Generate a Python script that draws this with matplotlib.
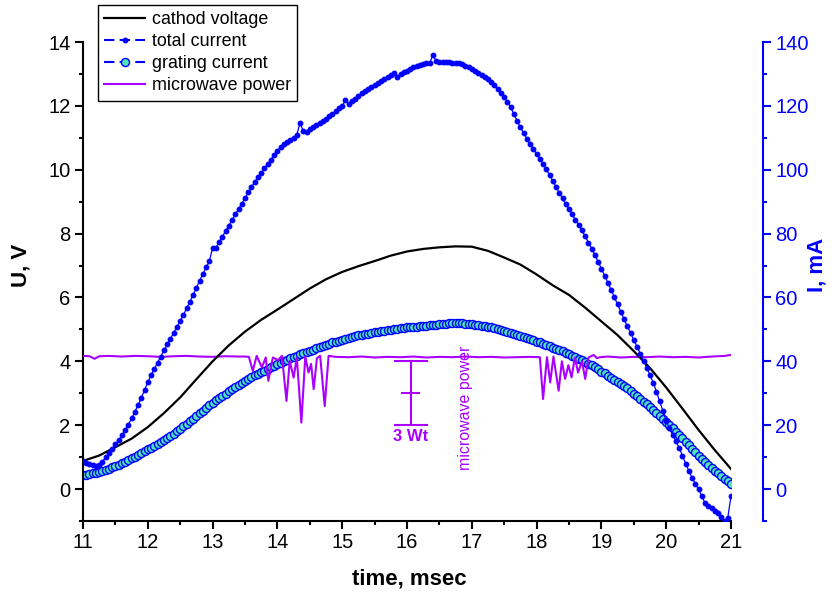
import numpy as np
import matplotlib.pyplot as plt
from matplotlib.lines import Line2D
from matplotlib.ticker import MultipleLocator

plt.rcParams['font.family'] = ['Liberation Sans', 'DejaVu Sans']

PURPLE = '#AA00FF'
BLUE = '#0000FF'
MINT = '#4CE6B8'

# cathod voltage, V (left axis)
volt_t = [11.0, 11.25, 11.5, 11.75, 12.0, 12.25, 12.5, 12.75, 13.0, 13.25, 13.5,
          13.75, 14.0, 14.25, 14.5, 14.75, 15.0, 15.25, 15.5, 15.75, 16.0, 16.25,
          16.5, 16.75, 17.0, 17.25, 17.5, 17.75, 18.0, 18.25, 18.5, 18.75, 19.0,
          19.25, 19.5, 19.75, 20.0, 20.25, 20.5, 20.75, 21.0]
cathod_voltage = [0.88, 1.05, 1.31, 1.58, 1.94, 2.38, 2.87, 3.44, 4.00, 4.50, 4.93,
                  5.30, 5.62, 5.95, 6.28, 6.57, 6.80, 6.98, 7.14, 7.31, 7.44, 7.52,
                  7.57, 7.60, 7.59, 7.46, 7.25, 7.03, 6.72, 6.38, 6.08, 5.68, 5.25,
                  4.82, 4.32, 3.79, 3.18, 2.52, 1.85, 1.22, 0.63]

# total current, mA (right axis), sampled every 0.05 ms from 11 to 21
total_current = [
    8.8, 8.2, 7.8, 7.4, 7.2, 7.6, 8.6, 9.9, 11.4, 12.7,
    14.0, 15.3, 16.8, 18.4, 20.2, 22.1, 24.2, 26.3, 28.6, 31.0,
    33.5, 35.6, 37.6, 39.6, 41.5, 43.4, 45.3, 47.1, 49.0, 50.8,
    52.7, 54.6, 56.6, 58.7, 60.8, 63.0, 65.3, 67.3, 69.4, 71.3,
    75.6, 75.5, 77.3, 79.0, 80.8, 82.5, 84.2, 86.0, 87.7, 89.4,
    91.1, 92.9, 94.6, 96.2, 97.6, 99.0, 100.4, 101.8, 103.2, 104.6,
    106.0, 107.1, 108.2, 108.8, 109.3, 109.8, 111.0, 114.7, 112.0, 111.8,
    112.6, 113.3, 114.0, 114.6, 115.3, 116.0, 116.8, 117.6, 118.3, 119.2,
    119.9, 121.8, 120.5, 121.4, 122.3, 123.1, 123.9, 124.6, 125.3, 126.0,
    126.6, 127.2, 127.8, 128.4, 129.0, 129.6, 130.2, 129.1, 130.0, 130.5,
    131.0, 131.6, 132.2, 132.6, 132.9, 133.1, 133.3, 133.4, 135.9, 134.0,
    133.8, 133.7, 133.6, 133.6, 133.5, 133.4, 133.3, 133.0, 132.6, 132.1,
    131.5, 130.9, 130.3, 129.7, 129.1, 128.3, 127.4, 126.4, 125.3, 124.1,
    122.8, 121.2, 119.5, 117.4, 115.2, 113.3, 111.5, 109.7, 108.0, 106.5,
    105.0, 103.4, 101.8, 100.1, 98.3, 96.5, 94.6, 92.8, 91.0, 89.3,
    87.6, 86.0, 84.3, 82.7, 81.0, 79.1, 77.2, 75.3, 73.3, 71.2,
    69.0, 66.8, 64.6, 62.4, 60.1, 57.8, 55.5, 53.2, 51.0, 48.9,
    46.7, 44.6, 42.4, 40.2, 38.0, 35.7, 33.3, 30.5, 27.5, 24.4,
    21.3, 19.1, 17.0, 15.0, 12.9, 10.5, 8.0, 5.7, 3.5, 1.7,
    0.0, -2.3, -4.4, -5.3, -6.0, -6.8, -7.5, -8.9, -10.0, -9.0,
    -2.2]
total_t = np.linspace(11, 21, len(total_current))

# grating current (plotted on the left scale), every 0.05 ms
grating_current = [
    0.44, 0.45, 0.47, 0.49, 0.51, 0.53, 0.56, 0.60, 0.64, 0.68,
    0.72, 0.76, 0.81, 0.86, 0.91, 0.96, 1.01, 1.06, 1.12, 1.18,
    1.25, 1.30, 1.36, 1.42, 1.48, 1.54, 1.61, 1.67, 1.74, 1.81,
    1.88, 1.96, 2.04, 2.12, 2.20, 2.28, 2.37, 2.45, 2.54, 2.62,
    2.71, 2.78, 2.85, 2.92, 2.99, 3.06, 3.13, 3.20, 3.26, 3.33,
    3.39, 3.45, 3.50, 3.56, 3.61, 3.66, 3.71, 3.76, 3.81, 3.86,
    3.91, 3.95, 4.00, 4.04, 4.09, 4.13, 4.18, 4.22, 4.26, 4.30,
    4.33, 4.37, 4.41, 4.45, 4.48, 4.52, 4.55, 4.59, 4.62, 4.65,
    4.68, 4.70, 4.73, 4.76, 4.78, 4.81, 4.83, 4.85, 4.87, 4.89,
    4.91, 4.93, 4.94, 4.96, 4.97, 4.99, 5.00, 5.02, 5.03, 5.05,
    5.06, 5.07, 5.08, 5.09, 5.10, 5.11, 5.12, 5.13, 5.14, 5.15,
    5.16, 5.17, 5.18, 5.19, 5.19, 5.19, 5.19, 5.19, 5.18, 5.17,
    5.16, 5.15, 5.13, 5.12, 5.10, 5.08, 5.06, 5.04, 5.01, 4.99,
    4.96, 4.93, 4.90, 4.87, 4.83, 4.80, 4.76, 4.73, 4.69, 4.66,
    4.62, 4.59, 4.55, 4.51, 4.47, 4.43, 4.39, 4.35, 4.31, 4.27,
    4.22, 4.18, 4.13, 4.08, 4.03, 3.98, 3.93, 3.87, 3.81, 3.75,
    3.68, 3.62, 3.55, 3.49, 3.42, 3.36, 3.30, 3.23, 3.15, 3.07,
    2.99, 2.91, 2.82, 2.74, 2.65, 2.56, 2.47, 2.38, 2.29, 2.20,
    2.10, 2.00, 1.90, 1.80, 1.70, 1.59, 1.48, 1.37, 1.26, 1.15,
    1.04, 0.95, 0.85, 0.76, 0.67, 0.58, 0.49, 0.40, 0.32, 0.24,
    0.16]
grating_t = np.linspace(11, 21, len(grating_current))

# microwave power trace (left scale units)
mw_t = [11.0, 11.1, 11.18, 11.25, 11.4, 11.6, 11.8, 12.0, 12.2, 12.4, 12.6, 12.8,
        13.0, 13.2, 13.4, 13.5, 13.56, 13.62, 13.68, 13.76, 13.82, 13.86, 13.93,
        14.01, 14.07, 14.14, 14.19, 14.25, 14.30, 14.37, 14.43, 14.48, 14.52,
        14.56, 14.61, 14.66, 14.73, 14.79, 14.9, 15.1, 15.3, 15.5, 15.7, 15.9,
        16.1, 16.3, 16.5, 16.7, 16.9, 17.1, 17.3, 17.5, 17.7, 17.9, 18.05, 18.10,
        18.16, 18.21, 18.26, 18.34, 18.39, 18.44, 18.49, 18.54, 18.59, 18.64,
        18.70, 18.75, 18.80, 18.88, 18.93, 18.98, 19.1, 19.3, 19.5, 19.7, 19.9,
        20.1, 20.3, 20.5, 20.7, 20.9, 21.0]
mw_power = [4.17, 4.16, 4.08, 4.16, 4.17, 4.15, 4.17, 4.16, 4.14, 4.16, 4.17, 4.15,
            4.14, 4.16, 4.15, 4.15, 4.14, 3.70, 4.17, 3.81, 4.12, 3.39, 4.12,
            4.04, 4.17, 2.76, 4.02, 3.49, 4.12, 2.08, 4.15, 3.65, 3.92,
            3.13, 4.10, 4.17, 2.60, 4.17, 4.14, 4.13, 4.15, 4.12, 4.14, 4.13,
            4.15, 4.12, 4.14, 4.13, 4.15, 4.13, 4.14, 4.12, 4.13, 4.14, 4.13, 2.82,
            4.13, 3.34, 4.15, 3.08, 4.00, 3.45, 3.88, 3.50, 4.12, 3.65,
            4.00, 3.45, 4.12, 4.20, 4.10, 4.13, 4.15, 4.12, 4.14, 4.13, 4.15,
            4.13, 4.14, 4.12, 4.15, 4.17, 4.20]

fig = plt.figure(figsize=(8.36, 5.97), dpi=100)
ax = fig.add_axes([83 / 836, 76 / 597, 648 / 836, 479 / 597])
ax2 = ax.twinx()

ax.plot(grating_t, grating_current, '-', color=BLUE, lw=0.8, marker='o', ms=5.8,
        mfc=MINT, mec=BLUE, mew=1.0, zorder=2)
ax.plot(mw_t, mw_power, color=PURPLE, lw=1.5, zorder=3)
ax.plot(volt_t, cathod_voltage, color='black', lw=1.6, zorder=4)
ax2.plot(total_t, total_current, '-', color=BLUE, lw=0.9, marker='o', ms=3.2,
         mec=BLUE, mfc=BLUE, zorder=5)

# 3 Wt scale bar
ax.plot([16.06, 16.06], [2.0, 4.0], color=PURPLE, lw=1.5)
ax.plot([15.81, 16.31], [4.0, 4.0], color=PURPLE, lw=1.5)
ax.plot([15.81, 16.31], [2.0, 2.0], color=PURPLE, lw=1.5)
ax.plot([15.93, 16.19], [3.0, 3.0], color=PURPLE, lw=1.5)
ax.text(16.06, 1.88, '3 Wt', color=PURPLE, fontsize=12, fontweight='bold',
        ha='center', va='top')
ax.text(16.9, 0.6, 'microwave power', color=PURPLE, fontsize=11.5,
        rotation=90, ha='center', va='bottom')

ax.set_xlim(11, 21)
ax.set_ylim(-1, 14)
ax2.set_ylim(-10, 140)

ax.xaxis.set_major_locator(MultipleLocator(1))
ax.xaxis.set_minor_locator(MultipleLocator(0.5))
ax.yaxis.set_major_locator(MultipleLocator(2))
ax.yaxis.set_minor_locator(MultipleLocator(1))
ax2.yaxis.set_major_locator(MultipleLocator(20))
ax2.yaxis.set_minor_locator(MultipleLocator(10))

for s in ['top', 'right']:
    ax.spines[s].set_visible(False)
for s in ['top', 'left', 'bottom']:
    ax2.spines[s].set_visible(False)
ax.spines['left'].set_linewidth(1.5)
ax.spines['bottom'].set_linewidth(1.5)
ax2.spines['right'].set_linewidth(1.5)
ax2.spines['right'].set_color(BLUE)
ax2.spines['right'].set_position(('outward', 23))

ax.tick_params(which='major', direction='out', length=6, width=1.5, labelsize=14.5, pad=3)
ax.tick_params(which='minor', direction='out', length=3, width=1.5)
ax2.tick_params(which='major', direction='out', length=6, width=1.5, labelsize=14.5,
                colors=BLUE, pad=3)
ax2.tick_params(which='minor', direction='out', length=3, width=1.5, colors=BLUE)

ax.set_xlabel('time, msec', fontsize=16, fontweight='bold')
ax.set_ylabel('U, V', fontsize=16, fontweight='bold')
ax2.set_ylabel('I, mA', fontsize=16, fontweight='bold', color=BLUE)
ax.xaxis.set_label_coords(0.503, -0.100)
ax.yaxis.set_label_coords(-0.079, 0.534)
ax2.yaxis.set_label_coords(1.116, 0.534)

handles = [
    Line2D([], [], color='black', lw=1.6),
    Line2D([], [], color=BLUE, lw=1.5, ls=(0, (5, 2.5)), marker='o', ms=3.2),
    Line2D([], [], color=BLUE, lw=1.5, ls=(0, (5, 2.5)), marker='o', ms=5.8,
           mfc=MINT, mec=BLUE, mew=1.0),
    Line2D([], [], color=PURPLE, lw=1.5),
]
labels = ['cathod voltage', 'total current', 'grating current', 'microwave power']
leg = fig.legend(handles, labels, loc='upper left',
                 bbox_to_anchor=(98 / 836, 1 - 5 / 597), borderaxespad=0,
                 fontsize=12.9, fancybox=False, framealpha=1, edgecolor='black',
                 handlelength=2.3, handletextpad=0.35, labelspacing=0.28,
                 borderpad=0.35)
leg.get_frame().set_linewidth(1)

fig.savefig('out.png', dpi=100)
